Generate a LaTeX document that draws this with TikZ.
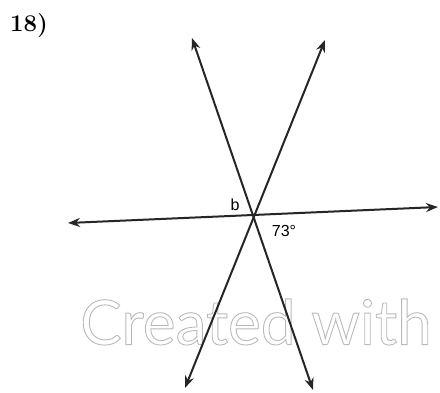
\documentclass[tikz,border=0pt]{standalone}
\usepackage{fontspec}
\newfontfamily\markfont{Lato}
\newfontfamily\labelfont{Liberation Sans}
\usetikzlibrary{arrows.meta}
\newcommand{\outlinetext}[1]{\special{pdf:literal direct 1 Tr 0.9 w}#1\special{pdf:literal direct 0 Tr}}
\begin{document}
\begin{tikzpicture}[x=1pt,y=-1pt,
      every node/.style={inner sep=0pt},
      ray/.style={{Stealth[length=12pt,width=9pt]}-{Stealth[length=12pt,width=9pt]},line width=2pt,black!85},
      anglelbl/.style={font=\labelfont\fontsize{16}{16}\selectfont},
      watermark/.style={font=\markfont\fontsize{62}{62}\selectfont,text=gray!55},
    ]
    \useasboundingbox (0,0) rectangle (440,393);

    % Problem number and watermark
    \node[font=\bfseries\fontsize{24}{24}\selectfont] (num) at (29,26) {18)};
    \node[watermark] (mark) at (256,322) {\outlinetext{Created with}};

    % Ray end points
    \coordinate (ul) at (192,38);
    \coordinate (br) at (313,390);
    \coordinate (ur) at (325,40);
    \coordinate (bl) at (185,388);
    \coordinate (lt) at (68,223);
    \coordinate (rt) at (438,207);

    % Lines
    \draw[ray] (ul) -- (br);
    \draw[ray] (ur) -- (bl);
    \draw[ray] (lt) -- (rt);

    % Angle labels
    \node[anglelbl] (b) at (235,205) {b};
    \node[anglelbl] (ang) at (284,231) {73\textdegree};
  \end{tikzpicture}
\end{document}
